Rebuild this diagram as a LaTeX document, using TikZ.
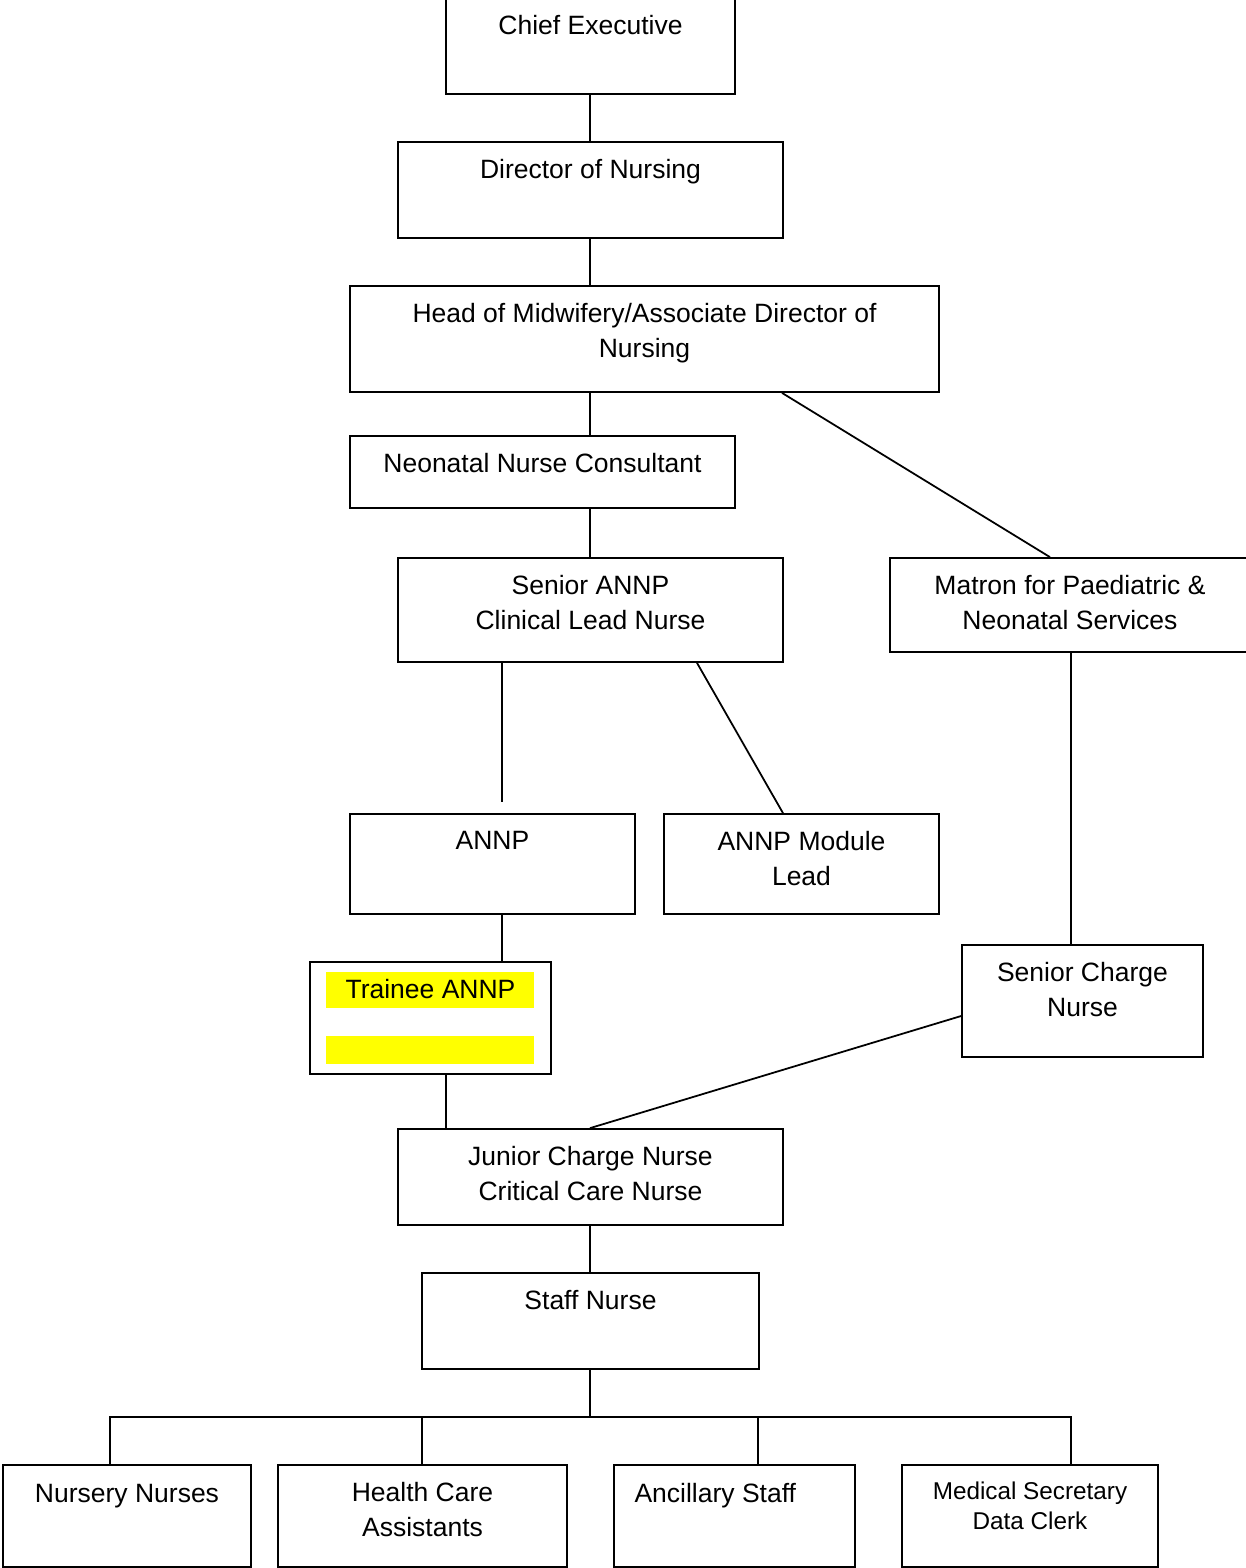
\documentclass[tikz,border=0pt]{standalone}
\usepackage{fontspec}
\setmainfont{Liberation Sans}
\usetikzlibrary{positioning,fit}

\tikzset{
  orgbox/.style={draw, line width=0.8pt, inner sep=0pt},
  orgtext/.style={inner sep=0pt, align=center, font=\fontsize{12}{15.85}\selectfont},
  smalltext/.style={inner sep=0pt, align=center, font=\fontsize{11}{13.6}\selectfont},
  link/.style={line width=0.8pt},
  hilite/.style={fill={rgb,255:red,255;green,255;blue,0}}
}

\begin{document}
\begin{tikzpicture}[x=0.4528pt,y=-0.4528pt]
\useasboundingbox (0,0) rectangle (1246,1568);
\clip (0,0) rectangle (1246,1568);
% top of the chart
  \node[orgbox, fit={(446,-2) (735,94)}] (ce) {};
  \node[orgtext, below=8.05pt of ce.north] (ce-t) {Chief Executive};
  \node[orgbox, fit={(398,142) (783,238)}] (don) {};
  \node[orgtext, below=8.05pt of don.north] (don-t) {Director of Nursing};
  \node[orgbox, fit={(350,286) (939,392)}] (hom) {};
  \node[orgtext, below=8.05pt of hom.north] (hom-t) {Head of Midwifery/Associate Director of\\Nursing};
  \node[orgbox, fit={(350,436) (735,508)}] (nnc) {};
  \node[orgtext, below=8.05pt of nnc.north] (nnc-t) {Neonatal Nurse Consultant};
% middle
  \node[orgbox, fit={(398,558) (783,662)}] (sannp) {};
  \node[orgtext, below=8.05pt of sannp.north] (sannp-t) {Senior ANNP\\Clinical Lead Nurse};
  \node[orgbox, fit={(890,558) (1250,652)}] (mat) {};
  \node[orgtext, below=8.05pt of mat.north] (mat-t) {Matron for Paediatric \&\\Neonatal Services};
  \node[orgbox, fit={(350,814) (635,914)}] (annp) {};
  \node[orgtext, below=8.05pt of annp.north] (annp-t) {ANNP};
  \node[orgbox, fit={(664,814) (939,914)}] (mod) {};
  \node[orgtext, below=8.05pt of mod.north] (mod-t) {ANNP Module\\Lead};
  \node[orgbox, fit={(310,962) (551,1074)}] (tr) {};
  \fill[hilite] (326,972) rectangle (534,1008);
  \fill[hilite] (326,1036) rectangle (534,1064);
  \node[orgtext, below=8.05pt of tr.north] (tr-t) {Trainee ANNP};
  \node[orgbox, fit={(962,945) (1203,1057)}] (scn) {};
  \node[orgtext, below=8.05pt of scn.north] (scn-t) {Senior Charge\\Nurse};
  \node[orgbox, fit={(398,1129) (783,1225)}] (jcn) {};
  \node[orgtext, below=8.05pt of jcn.north] (jcn-t) {Junior Charge Nurse\\Critical Care Nurse};
  \node[orgbox, fit={(422,1273) (759,1369)}] (sn) {};
  \node[orgtext, below=8.05pt of sn.north] (sn-t) {Staff Nurse};
% bottom row
  \node[orgbox, fit={(3,1465) (251,1567)}] (nn) {};
  \node[orgtext, below=9pt of nn.north] (nn-t) {Nursery Nurses};
  \node[orgbox, fit={(278,1465) (567,1567)}] (hca) {};
  \node[orgtext, below=8.05pt of hca.north] (hca-t) {Health Care\\Assistants};
  \node[orgbox, fit={(614,1465) (855,1567)}] (anc) {};
  \node[orgtext, below right=8.5pt and 9.5pt of anc.north west] (anc-t) {Ancillary Staff};
  \node[orgbox, fit={(902,1465) (1158,1567)}] (ms) {};
  \node[smalltext, below=7.9pt of ms.north] (ms-t) {Medical Secretary\\Data Clerk};
% connectors
  \coordinate (annp-stub) at (502,802);
  \coordinate (bus-l) at (110,1417);
  \coordinate (bus-r) at (1071,1417);
  \draw[link] (ce.south -| 590,0) -- (don.north -| 590,0);
  \draw[link] (don.south -| 590,0) -- (hom.north -| 590,0);
  \draw[link] (hom.south -| 590,0) -- (nnc.north -| 590,0);
  \draw[link] (hom.south -| 782,0) -- (mat.north -| 1050,0);
  \draw[link] (nnc.south -| 590,0) -- (sannp.north -| 590,0);
  \draw[link] (sannp.south -| annp-stub) -- (annp-stub);
  \draw[link] (sannp.south -| 697,0) -- (mod.north -| 783,0);
  \draw[link] (mat.south -| 1071,0) -- (scn.north -| 1071,0);
  \draw[link] (annp.south -| 502,0) -- (tr.north -| 502,0);
  \draw[link] (tr.south -| 446,0) -- (jcn.north -| 446,0);
  \draw[link] (scn.west |- 0,1016) -- (jcn.north -| 590,0);
  \draw[link] (jcn.south -| 590,0) -- (sn.north -| 590,0);
  \draw[link] (sn.south -| 590,0) -- (bus-l -| 590,0);
  \draw[link] (nn.north -| bus-l) -- (bus-l) -- (bus-r) -- (ms.north -| bus-r);
  \draw[link] (hca.north -| 422,0) -- (bus-l -| 422,0);
  \draw[link] (anc.north -| 758,0) -- (bus-l -| 758,0);
\end{tikzpicture}
\end{document}
